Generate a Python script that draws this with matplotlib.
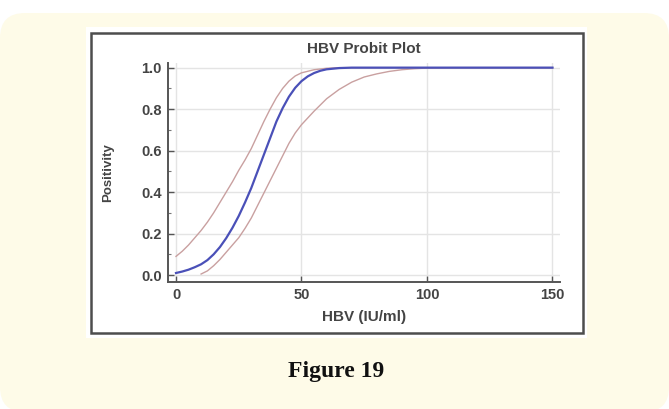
import matplotlib
matplotlib.use('Agg')
import matplotlib.pyplot as plt
from matplotlib.patches import FancyBboxPatch, Rectangle
from matplotlib.transforms import IdentityTransform
from matplotlib.ticker import MultipleLocator

plt.rcParams.update({'font.family': ['Liberation Sans', 'DejaVu Sans'],
                     'axes.axisbelow': True})

# probit fit, HBV load (IU/ml) vs positivity
hbv_fit = [0, 2.5, 5, 7.5, 10, 12.5, 15, 17.5, 20, 22.5, 25, 27.5, 30, 32.5, 35,
           37.5, 40, 42.5, 45, 47.5, 50, 52.5, 55, 57.5, 60, 65, 70, 80, 150]
pos_fit = [0.010, 0.017, 0.026, 0.038, 0.052, 0.072, 0.100, 0.135, 0.178, 0.228,
           0.285, 0.350, 0.420, 0.500, 0.580, 0.660, 0.740, 0.805, 0.860, 0.903,
           0.935, 0.958, 0.974, 0.985, 0.992, 0.998, 1.0, 1.0, 1.0]

# confidence limits
hbv_upper = [0, 2.5, 5, 7.5, 10, 12.5, 15, 17.5, 20, 22.5, 25, 27.5, 30, 32.5,
             35, 37.5, 40, 42.5, 45, 47.5, 50, 55, 60, 65, 150]
pos_upper = [0.090, 0.115, 0.145, 0.180, 0.215, 0.255, 0.300, 0.350, 0.400, 0.450,
             0.505, 0.555, 0.610, 0.675, 0.740, 0.800, 0.855, 0.900, 0.935, 0.960,
             0.975, 0.990, 0.997, 1.0, 1.0]

hbv_lower = [10, 12.5, 15, 17.5, 20, 22.5, 25, 27.5, 30, 32.5, 35, 37.5, 40, 42.5,
             45, 47.5, 50, 55, 60, 65, 70, 75, 80, 85, 90, 95, 100, 110, 150]
pos_lower = [0.005, 0.020, 0.045, 0.075, 0.110, 0.145, 0.180, 0.225, 0.275, 0.335,
             0.395, 0.455, 0.515, 0.575, 0.635, 0.685, 0.725, 0.790, 0.850, 0.895,
             0.930, 0.955, 0.970, 0.982, 0.990, 0.995, 0.998, 1.0, 1.0]

x_ticks = [0, 50, 100, 150]

W, H = 669, 409
fig = plt.figure(figsize=(W / 100, H / 100), dpi=100, facecolor='white')

# page panel, white plot card and its frame (pixel coordinates)
fig.patches.append(FancyBboxPatch((0, -3), W, 399, boxstyle='round,pad=0,rounding_size=25',
                                  facecolor='#fefbe8', edgecolor='none',
                                  transform=IdentityTransform(), figure=fig, zorder=0))
fig.patches.append(Rectangle((86, 71), 501, 311, facecolor='white', edgecolor='none',
                             transform=IdentityTransform(), figure=fig, zorder=1))
fig.patches.append(Rectangle((90.5, 76), 492, 300.5, facecolor='none', edgecolor='#4d4d4d',
                             linewidth=1.8, transform=IdentityTransform(), figure=fig, zorder=2))

ax = fig.add_axes([168.3 / W, (H - 281.7) / H, 391.7 / W, 218.4 / H])
ax.set_facecolor('none')
ax.set_zorder(3)

ax.plot(hbv_upper, pos_upper, color='#c9a0a0', lw=1.0)
ax.plot(hbv_lower, pos_lower, color='#c9a0a0', lw=1.0)
ax.plot(hbv_fit, pos_fit, color='#4a50b8', lw=1.6)

ax.set_xlim(-3.07, 153)
ax.set_ylim(-0.032, 1.021)
ax.set_xticks(x_ticks)
ax.yaxis.set_major_locator(MultipleLocator(0.2))
ax.yaxis.set_minor_locator(MultipleLocator(0.1))
ax.set_yticklabels([f'{v:.1f}' for v in ax.get_yticks()])

for s in ('top', 'right'):
    ax.spines[s].set_visible(False)
for s in ('left', 'bottom'):
    ax.spines[s].set_color('#555555')
    ax.spines[s].set_linewidth(1.4)

ax.tick_params(axis='both', which='major', direction='in', length=4, width=1,
               color='#555555', labelcolor='#444444', labelsize=10.5, pad=4.8)
ax.tick_params(axis='y', which='minor', direction='in', length=2, width=0.8, color='#777777')
for lab in ax.get_xticklabels() + ax.get_yticklabels():
    lab.set_fontweight('bold')

ax.grid(True, which='major', color='#e4e4e4', lw=1.0)

ax.set_title('HBV Probit Plot', fontsize=11, fontweight='bold', color='#444444', pad=7.2)
ax.set_xlabel('HBV (IU/ml)', fontsize=11, fontweight='bold', color='#444444')
ax.set_ylabel('Positivity', fontsize=9.5, fontweight='bold', color='#444444')
ax.xaxis.set_label_coords(0.5, -0.16)
ax.xaxis.label.set_va('center')
ax.yaxis.set_label_coords(-0.154, 0.5)
ax.yaxis.label.set_va('center')

fig.text(336 / W, (H - 377) / H, 'Figure 19', family=['Liberation Serif', 'DejaVu Serif'],
         fontsize=17, fontweight='bold', color='#111111', ha='center', va='baseline')

fig.savefig('out.png', dpi=100, facecolor='white')
